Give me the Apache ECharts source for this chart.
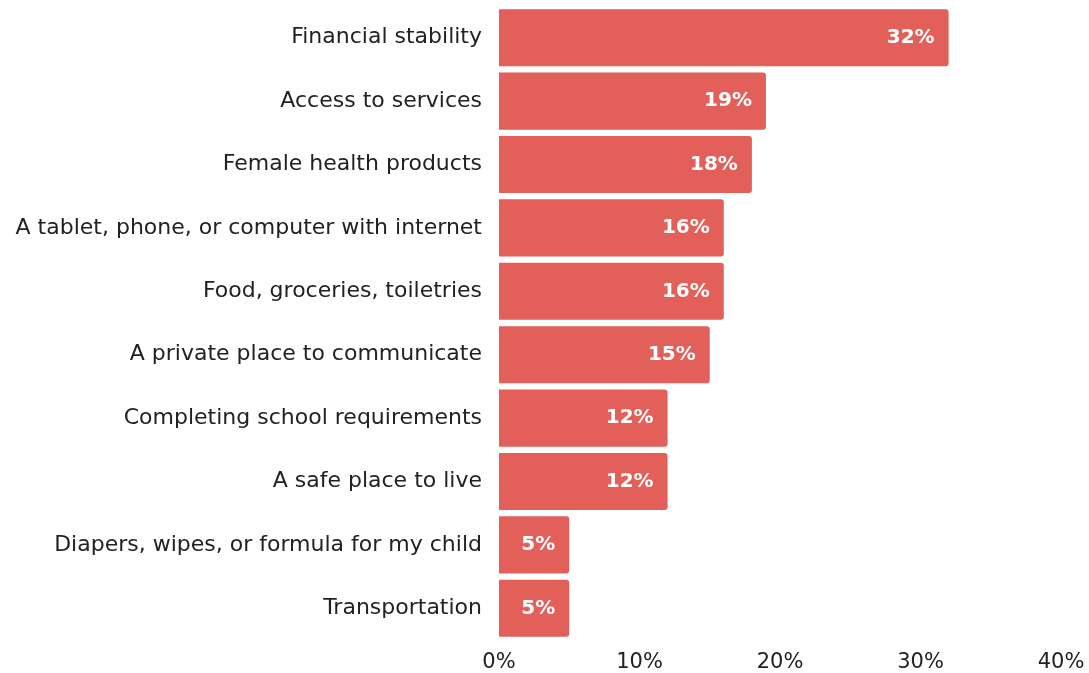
<!DOCTYPE html>
<html><head><meta charset="utf-8">
<script src="https://cdn.jsdelivr.net/npm/echarts@6/dist/echarts.min.js"></script>
<style>html,body{margin:0;padding:0;background:#fff}#c{width:1089px;height:673px}</style>
</head><body><div id="c"></div>
<script>
var categories = ["Financial stability","Access to services","Female health products","A tablet, phone, or computer with internet","Food, groceries, toiletries","A private place to communicate","Completing school requirements","A safe place to live","Diapers, wipes, or formula for my child","Transportation"];
var values = [32,19,18,16,16,15,12,12,5,5];
var xTicks = [0,10,20,30,40];
var chart = echarts.init(document.getElementById('c'));
var FONT = 'DejaVu Sans';
chart.setOption({
  animation:false,
  grid:{left:499,right:28,top:6,bottom:33,containLabel:false},
  xAxis:{type:'value',min:xTicks[0],max:xTicks[xTicks.length-1],interval:10,
    axisLine:{show:false},axisTick:{show:false},splitLine:{show:false},
    axisLabel:{formatter:'{value}%',color:'#222',fontSize:21,fontFamily:FONT,margin:12}},
  yAxis:{type:'category',data:categories,inverse:true,
    axisLine:{show:false},axisTick:{show:false},
    axisLabel:{color:'#222',fontSize:22,fontFamily:FONT,margin:17}},
  series:[{type:'bar',data:values,barCategoryGap:'10%',
    itemStyle:{color:'#E3605A',borderRadius:[0,3,3,0]},
    label:{show:true,position:'insideRight',distance:14,formatter:'{c}%',color:'#fff',fontWeight:'bold',fontSize:20,fontFamily:FONT}}]
});
</script></body></html>
